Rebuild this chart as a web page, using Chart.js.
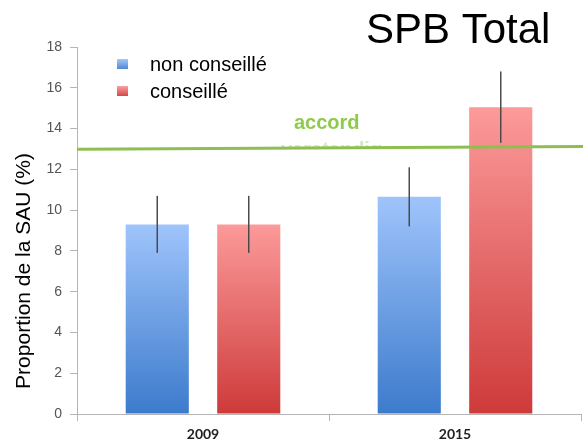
<!DOCTYPE html>
<html>
<head>
<meta charset="utf-8">
<script src="https://cdn.jsdelivr.net/npm/chart.js@4"></script>
<style>
  html, body { margin: 0; background: #fff; }
  #wrap { width: 588px; height: 444px; }
</style>
</head>
<body>
<div id="wrap"><canvas id="chart" width="588" height="444"></canvas></div>
<script>
// data
const categories = ['2009', '2015'];
const nonConseille = [9.3, 10.65];
const conseille = [9.3, 15.05];
const errNonConseille = [1.4, 1.45];
const errConseille = [1.4, 1.75];
const accordLevel = [12.98, 13.12]; // left end, right end (line is slightly tilted)
const yMax = 18;
const yStep = 2;

// vertical gradient for one bar, light at the top, dark at the base
function barGradient(topColor, bottomColor) {
    return (context) => {
        const chart = context.chart;
        const y = chart.scales.y;
        if (!y || context.type !== 'data') return topColor;
        const v = context.dataset.data[context.dataIndex];
        const yTop = y.getPixelForValue(v);
        const yBase = y.getPixelForValue(0);
        if (!isFinite(yTop) || !isFinite(yBase) || yTop === yBase) return topColor;
        const g = chart.ctx.createLinearGradient(0, yTop, 0, yBase);
        g.addColorStop(0, topColor);
        g.addColorStop(1, bottomColor);
        return g;
    };
}

const blueTop = '#9fc4fb', blueBottom = '#3c7bcc';
const redTop = '#fc9a9a', redBottom = '#ce3a3a';

const overlay = {
    id: 'overlay',
    afterDatasetsDraw(chart) {
        const c = chart.ctx;
        const y = chart.scales.y;
        const area = chart.chartArea;

        // error bars
        const errs = [errNonConseille, errConseille];
        c.save();
        c.strokeStyle = '#4a4a4a';
        c.lineWidth = 1.5;
        chart.data.datasets.forEach((ds, i) => {
            chart.getDatasetMeta(i).data.forEach((bar, j) => {
                const v = ds.data[j];
                c.beginPath();
                c.moveTo(bar.x, y.getPixelForValue(v + errs[i][j]));
                c.lineTo(bar.x, y.getPixelForValue(v - errs[i][j]));
                c.stroke();
            });
        });

        const yLeft = y.getPixelForValue(accordLevel[0]);
        const yRight = y.getPixelForValue(accordLevel[1]);

        // faint text mostly hidden under the line, only its top shows
        c.save();
        c.beginPath();
        c.rect(0, 0, 588, yLeft - 2);
        c.clip();
        c.font = 'bold 20px "Liberation Sans", Arial, sans-serif';
        c.fillStyle = 'rgba(200, 228, 175, 0.8)';
        c.textBaseline = 'alphabetic';
        c.fillText('verstandig', 281, 156);
        c.restore();

        // green "accord" line
        c.strokeStyle = '#8cbf4f';
        c.lineWidth = 3;
        c.beginPath();
        c.moveTo(area.left, yLeft);
        c.lineTo(area.right + 2, yRight);
        c.stroke();

        c.font = 'bold 20px "Liberation Sans", Arial, sans-serif';
        c.textBaseline = 'alphabetic';
        c.fillStyle = '#8ecb4a';
        c.fillText('accord', 294, 129);

        // title
        c.fillStyle = '#000';
        c.font = '42px "Liberation Sans", Arial, sans-serif';
        c.fillText('SPB Total', 366, 43);

        // legend
        const legendColors = [['#a6c8f8', '#4f88d4'], ['#f9a0a0', '#d54848']];
        c.font = '20px "Liberation Sans", Arial, sans-serif';
        chart.data.datasets.forEach((ds, i) => {
            const ly = 64 + i * 27;
            const g = c.createLinearGradient(0, ly - 5, 0, ly + 5);
            g.addColorStop(0, legendColors[i][0]);
            g.addColorStop(1, legendColors[i][1]);
            c.fillStyle = g;
            c.fillRect(117, ly - 5, 11, 10);
            c.fillStyle = '#000';
            c.textBaseline = 'middle';
            c.fillText(ds.label, 150, ly + 1);
        });

        // y axis title
        c.translate(24, 271);
        c.rotate(-Math.PI / 2);
        c.textAlign = 'center';
        c.textBaseline = 'middle';
        c.font = '21px "Liberation Sans", Arial, sans-serif';
        c.fillStyle = '#000';
        c.fillText('Proportion de la SAU (%)', 0, 0);
        c.restore();
    }
};

new Chart(document.getElementById('chart'), {
    type: 'bar',
    data: {
        labels: categories,
        datasets: [
            {
                label: 'non conseillé',
                data: nonConseille,
                backgroundColor: barGradient(blueTop, blueBottom),
                categoryPercentage: 0.726,
                barPercentage: 0.69
            },
            {
                label: 'conseillé',
                data: conseille,
                backgroundColor: barGradient(redTop, redBottom),
                categoryPercentage: 0.726,
                barPercentage: 0.69
            }
        ]
    },
    options: {
        responsive: false,
        animation: false,
        layout: { padding: { left: 0, top: 47, right: 7, bottom: 0 } },
        plugins: {
            legend: { display: false },
            tooltip: { enabled: false }
        },
        scales: {
            x: {
                grid: { drawOnChartArea: false, tickLength: 7, color: '#b5b5b5' },
                border: { color: '#b5b5b5' },
                ticks: {
                    color: '#222',
                    padding: 5,
                    font: { family: 'Lato, "Liberation Sans", sans-serif', size: 14, weight: 'bold' }
                },
                afterFit(scale) { scale.height = 30; }
            },
            y: {
                min: 0,
                max: yMax,
                grid: { drawOnChartArea: false, tickLength: 7, color: '#b5b5b5' },
                border: { color: '#b5b5b5' },
                ticks: {
                    stepSize: yStep,
                    color: '#555',
                    padding: 8,
                    font: { family: '"Liberation Sans", Arial, sans-serif', size: 14 }
                },
                afterFit(scale) { scale.width = 77; }
            }
        }
    },
    plugins: [overlay]
});
</script>
</body>
</html>
